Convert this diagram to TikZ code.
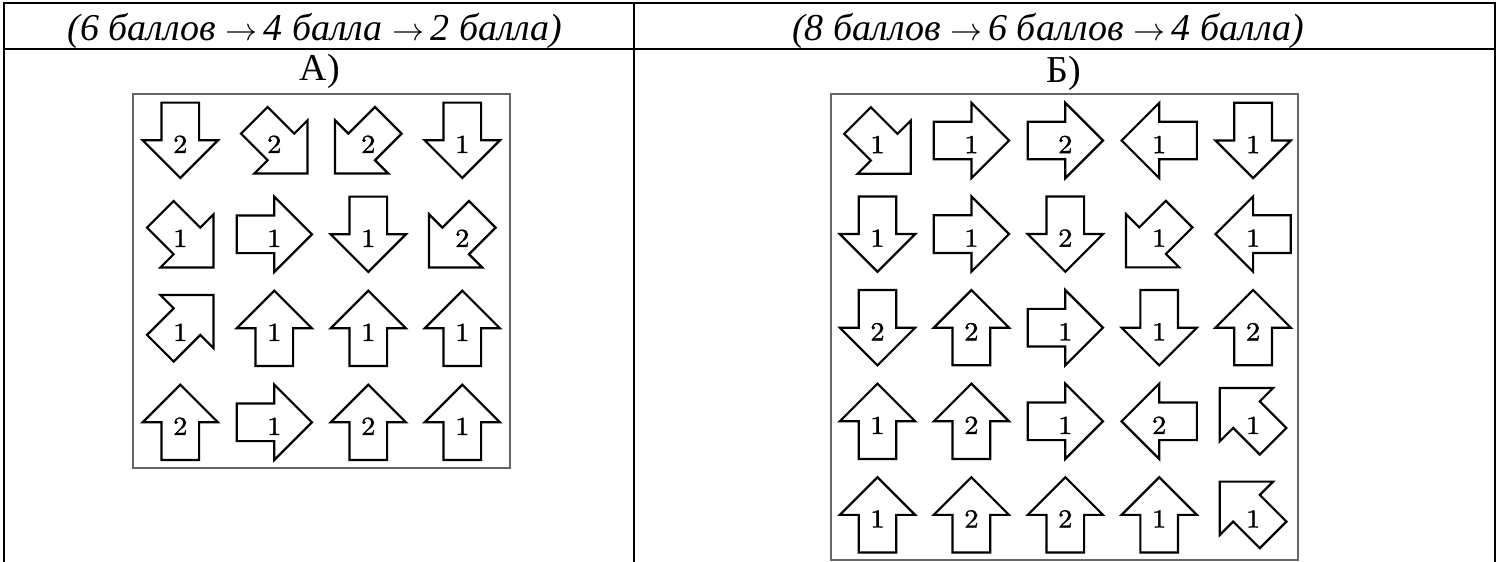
\documentclass[tikz,border=0pt]{standalone}
\usepackage{fontspec}
\newfontfamily\tnr{Liberation Serif}
\newfontfamily\lmnum[Extension=.otf, FakeBold=1.3, FakeStretch=1.1]{lmroman10-regular}
\newcommand\hh{37.65}
\newcommand\harr{\resizebox{32pt}{!}{$\rightarrow$}}
\tikzset{
  tline/.style={line width=2.6pt, draw=black},
  gridbox/.style={draw=black!60, line width=1.1pt},
  arrowline/.style={draw=black, line width=2.2pt, line join=miter},
  numlbl/.style={font=\lmnum\fontsize{26}{26}\selectfont, inner sep=0pt},
  hdr/.style={font=\tnr\itshape\fontsize{38}{40}\selectfont, anchor=base, inner sep=0pt},
  lbl/.style={font=\tnr\fontsize{38}{42}\selectfont, anchor=base, inner sep=0pt}
}
% name, x (px), y (px from top), direction angle, diagonal flag, label
\newcommand\barr[6]{%
  \begin{scope}[shift={(#2,562-#3)}]
    \draw[arrowline, rotate=#4, shift={(#5*0.25*\hh,0)}]
      (\hh,0) -- (0,\hh) -- (0,\hh/2) -- (-\hh,\hh/2) -- (-\hh,-\hh/2)
      -- (0,-\hh/2) -- (0,-\hh) -- cycle;
    \node[numlbl] (#1) at (0,-4) {#6};
  \end{scope}}
\begin{document}
\begin{tikzpicture}[x=1pt,y=1pt]
\useasboundingbox (0,0) rectangle (1499,562);
% table
\draw[tline] (4,0) -- (4,559) -- (1495,559) -- (1495,0);
\draw[tline] (4,513) -- (1495,513);
\draw[tline] (634,559) -- (634,0);
% headers
\node[hdr] (h1) at (315,562-41) {(6 баллов \harr\,4 балла \harr\,2 балла)};
\node[hdr] (h2) at (1048,562-41) {(8 баллов \harr\,6 баллов \harr\,4 балла)};
\node[lbl] (la) at (320,562-81) {А)};
\node[lbl] (lb) at (1064,562-83) {Б)};
% boxes
\draw[gridbox] (133,562-94) rectangle (510,562-468);
\draw[gridbox] (831,562-94) rectangle (1298,562-560);
% left grid
\barr{a00}{180.3}{140.3}{270}{0}{2}
\barr{a01}{274.3}{140.3}{-45}{1}{2}
\barr{a02}{368.3}{140.3}{225}{1}{2}
\barr{a03}{462.3}{140.3}{270}{0}{1}
\barr{a10}{180.3}{234.3}{-45}{1}{1}
\barr{a11}{274.3}{234.3}{0}{0}{1}
\barr{a12}{368.3}{234.3}{270}{0}{1}
\barr{a13}{462.3}{234.3}{225}{1}{2}
\barr{a20}{180.3}{328.3}{45}{1}{1}
\barr{a21}{274.3}{328.3}{90}{0}{1}
\barr{a22}{368.3}{328.3}{90}{0}{1}
\barr{a23}{462.3}{328.3}{90}{0}{1}
\barr{a30}{180.3}{422.3}{90}{0}{2}
\barr{a31}{274.3}{422.3}{0}{0}{1}
\barr{a32}{368.3}{422.3}{90}{0}{2}
\barr{a33}{462.3}{422.3}{90}{0}{1}
% right grid
\barr{b00}{877.5}{140.5}{-45}{1}{1}
\barr{b01}{971.4}{140.5}{0}{0}{1}
\barr{b02}{1065.3}{140.5}{0}{0}{2}
\barr{b03}{1159.2}{140.5}{180}{0}{1}
\barr{b04}{1253.1}{140.5}{270}{0}{1}
\barr{b10}{877.5}{234.1}{270}{0}{1}
\barr{b11}{971.4}{234.1}{0}{0}{1}
\barr{b12}{1065.3}{234.1}{270}{0}{2}
\barr{b13}{1159.2}{234.1}{225}{1}{1}
\barr{b14}{1253.1}{234.1}{180}{0}{1}
\barr{b20}{877.5}{327.7}{270}{0}{2}
\barr{b21}{971.4}{327.7}{90}{0}{2}
\barr{b22}{1065.3}{327.7}{0}{0}{1}
\barr{b23}{1159.2}{327.7}{270}{0}{1}
\barr{b24}{1253.1}{327.7}{90}{0}{2}
\barr{b30}{877.5}{421.3}{90}{0}{1}
\barr{b31}{971.4}{421.3}{90}{0}{2}
\barr{b32}{1065.3}{421.3}{0}{0}{1}
\barr{b33}{1159.2}{421.3}{180}{0}{2}
\barr{b34}{1253.1}{421.3}{135}{1}{1}
\barr{b40}{877.5}{514.9}{90}{0}{1}
\barr{b41}{971.4}{514.9}{90}{0}{2}
\barr{b42}{1065.3}{514.9}{90}{0}{2}
\barr{b43}{1159.2}{514.9}{90}{0}{1}
\barr{b44}{1253.1}{514.9}{135}{1}{1}
\end{tikzpicture}
\end{document}
